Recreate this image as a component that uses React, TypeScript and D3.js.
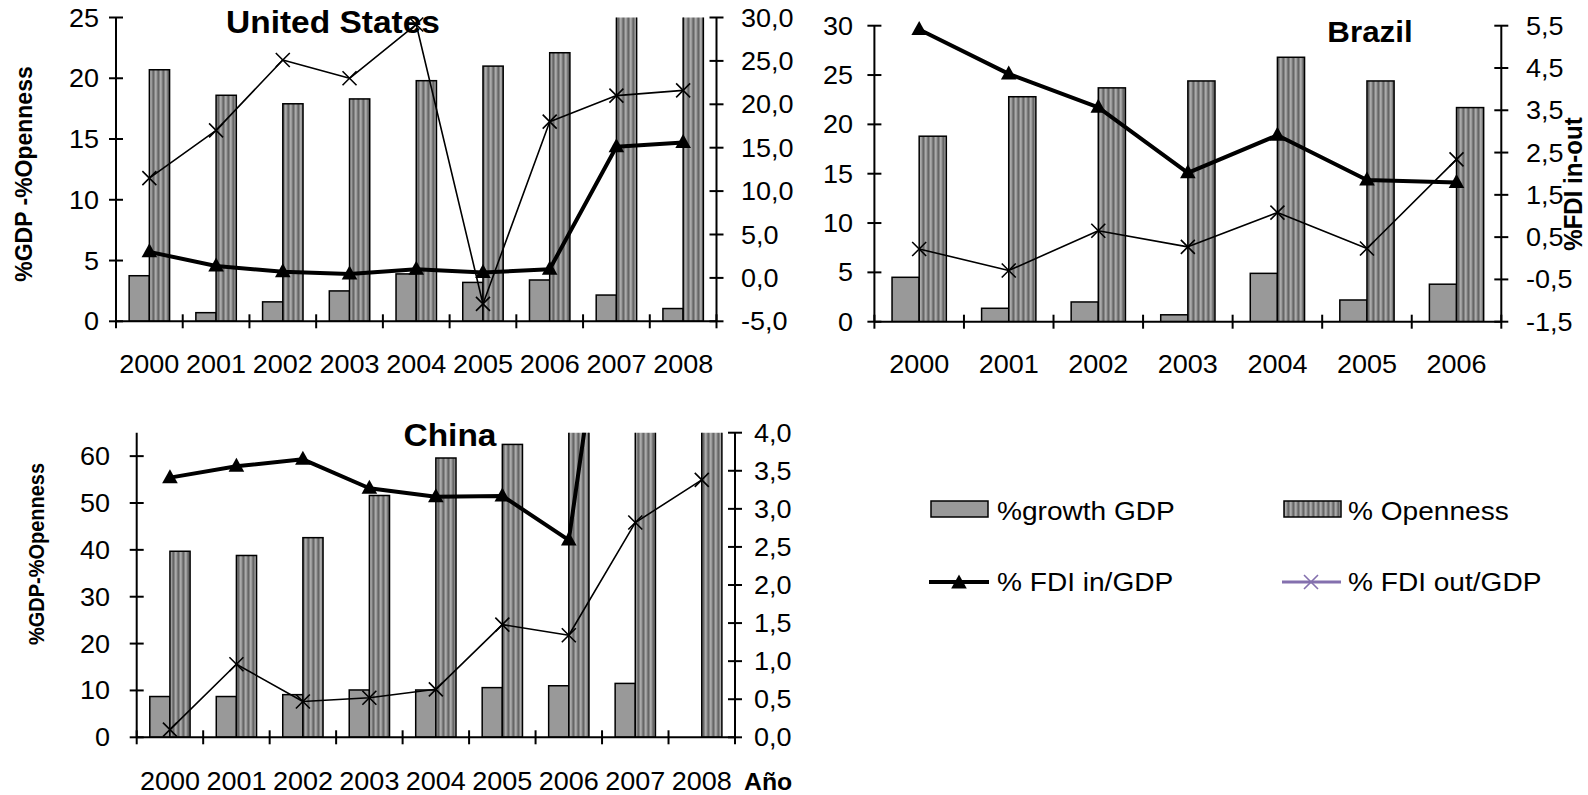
import React from 'react';
import * as d3 from 'd3';

// ---------- data ----------
const years9 = ['2000', '2001', '2002', '2003', '2004', '2005', '2006', '2007', '2008'];
const years7 = ['2000', '2001', '2002', '2003', '2004', '2005', '2006'];

const usGrowth = [3.75, 0.71, 1.6, 2.5, 3.9, 3.2, 3.4, 2.16, 1.05];
const usOpenness = [20.7, 18.6, 17.9, 18.3, 19.8, 21.0, 22.1, 28.0, 30.0];
const usFdiIn = [3.0, 1.37, 0.71, 0.45, 1.0, 0.62, 1.0, 15.1, 15.6];
const usFdiOut = [11.5, 17.0, 25.1, 23.0, 29.2, -3.0, 18.0, 21.0, 21.6];

const brGrowth = [4.5, 1.36, 2.0, 0.7, 4.9, 2.2, 3.8];
const brOpenness = [18.8, 22.8, 23.7, 24.4, 26.8, 24.4, 21.7];
const brFdiIn = [5.41, 4.36, 3.57, 2.02, 2.91, 1.85, 1.79];
const brFdiOut = [0.22, -0.29, 0.65, 0.27, 1.08, 0.23, 2.34];

const cnGrowth: (number | null)[] = [8.7, 8.7, 9.1, 10.1, 10.1, 10.6, 11.0, 11.5, null];
const cnOpenness = [39.7, 38.8, 42.6, 51.6, 59.6, 62.5, 66.5, 67.0, 66.0];
const cnFdiIn = [3.41, 3.56, 3.65, 3.27, 3.16, 3.17, 2.59, 8.7, 8.0];
const cnFdiOut = [0.1, 0.96, 0.47, 0.52, 0.63, 1.48, 1.34, 2.82, 3.38];

const usLeftTicks = [0, 5, 10, 15, 20, 25];
const usRightTicks = [-5, 0, 5, 10, 15, 20, 25, 30];
const brLeftTicks = [0, 5, 10, 15, 20, 25, 30];
const brRightTicks = [-1.5, -0.5, 0.5, 1.5, 2.5, 3.5, 4.5, 5.5];
const cnLeftTicks = [0, 10, 20, 30, 40, 50, 60];
const cnRightTicks = [0, 0.5, 1, 1.5, 2, 2.5, 3, 3.5, 4];

const legendLabels = ['%growth GDP', '% Openness', '% FDI in/GDP', '% FDI out/GDP'];

// ---------- style ----------
const FONT = "'Liberation Sans', Arial, Helvetica, sans-serif";
const SX = 1.08;
const GROWTH_FILL = '#999999';
const LEGEND_PURPLE = '#8470ae';

const fmtComma = (v: number) => v.toFixed(1).replace('.', ',');

function T(props: {
  x: number; y: number; anchor?: string; size: number; bold?: boolean;
  rotate?: number; fill?: string; dy?: string; children: React.ReactNode;
}) {
  const { x, y, anchor = 'start', size, bold, rotate, fill = '#000', dy, children } = props;
  return (
    <text
      transform={`translate(${x},${y}) scale(${SX},1)${rotate ? ` rotate(${rotate})` : ''}`}
      textAnchor={anchor as any}
      fontSize={size}
      fontWeight={bold ? 'bold' : 'normal'}
      fontFamily={FONT}
      fill={fill}
      dy={dy}
    >
      {children}
    </text>
  );
}

const triPath = 'M0,-8.5 L7.8,5.5 L-7.8,5.5 Z';
const xPath = 'M-7,-7 L7,7 M-7,7 L7,-7';

interface PanelProps {
  id: string;
  cats: string[];
  growth: (number | null)[];
  openness: number[];
  fdiIn: number[];
  fdiOut: number[];
  x0: number; x1: number; yTop: number; yBot: number;
  leftDomain: [number, number]; leftTicks: number[];
  rightDomain: [number, number]; rightTicks: number[];
  leftLabelEnd: number; rightLabelStart: number; xLabelBase: number;
}

function Panel(p: PanelProps) {
  const x = d3.scaleBand<string>().domain(p.cats).range([p.x0, p.x1]).padding(0);
  const yL = d3.scaleLinear().domain(p.leftDomain).range([p.yBot, p.yTop]);
  const yR = d3.scaleLinear().domain(p.rightDomain).range([p.yBot, p.yTop]);
  const step = x.step();
  const bw = step / 3.3;
  const cx = (i: number) => (x(p.cats[i]) as number) + step / 2;
  const line = d3.line<number>().x((_, i) => cx(i)).y(d => yR(d));
  const clip = `clip-${p.id}`;
  const [rMin, rMax] = p.rightDomain;
  return (
    <g>
      <defs>
        <clipPath id={clip}>
          <rect x={p.x0} y={p.yTop} width={p.x1 - p.x0} height={p.yBot - p.yTop} />
        </clipPath>
      </defs>
      {/* bars */}
      <g clipPath={`url(#${clip})`}>
        {p.cats.map((c, i) => {
          const g = p.growth[i];
          const o = p.openness[i];
          const gx = cx(i) - bw;
          return (
            <g key={c}>
              {g != null && (
                <rect x={gx} y={yL(g)} width={bw} height={p.yBot - yL(g)}
                  fill={GROWTH_FILL} stroke="#000" strokeWidth={1.5} />
              )}
              <rect x={cx(i)} y={yL(o)} width={bw} height={p.yBot - yL(o)}
                fill="url(#stripes)" stroke="#000" strokeWidth={1.5} />
            </g>
          );
        })}
      </g>
      {/* axes */}
      <g stroke="#000" strokeWidth={2} fill="none">
        <line x1={p.x0} x2={p.x0} y1={p.yTop} y2={p.yBot} />
        <line x1={p.x1} x2={p.x1} y1={p.yTop} y2={p.yBot} />
        <line x1={p.x0} x2={p.x1} y1={p.yBot} y2={p.yBot} />
        {p.leftTicks.map(t => (
          <line key={'l' + t} x1={p.x0 - 7} x2={p.x0 + 7} y1={yL(t)} y2={yL(t)} />
        ))}
        {p.rightTicks.map(t => (
          <line key={'r' + t} x1={p.x1 - 7} x2={p.x1 + 7} y1={yR(t)} y2={yR(t)} />
        ))}
        {d3.range(p.cats.length + 1).map(i => (
          <line key={'c' + i} x1={p.x0 + i * step} x2={p.x0 + i * step} y1={p.yBot - 7} y2={p.yBot + 7} />
        ))}
      </g>
      {/* tick labels */}
      {p.leftTicks.map(t => (
        <T key={'lt' + t} x={p.leftLabelEnd} y={yL(t)} anchor="end" size={25} dy="0.36em">{String(t)}</T>
      ))}
      {p.rightTicks.map(t => (
        <T key={'rt' + t} x={p.rightLabelStart} y={yR(t)} anchor="start" size={25} dy="0.36em">{fmtComma(t)}</T>
      ))}
      {p.cats.map((c, i) => (
        <T key={'xt' + c} x={cx(i)} y={p.xLabelBase} anchor="middle" size={25}>{c}</T>
      ))}
      {/* lines */}
      <g clipPath={`url(#${clip})`} fill="none" stroke="#000" strokeLinejoin="round">
        <path d={line(p.fdiOut) || ''} strokeWidth={1.6} />
        <path d={line(p.fdiIn) || ''} strokeWidth={4} />
      </g>
      {p.fdiOut.map((v, i) => v >= rMin && v <= rMax ? (
        <path key={'xo' + i} d={xPath} transform={`translate(${cx(i)},${yR(v)})`} stroke="#000" strokeWidth={1.6} fill="none" />
      ) : null)}
      {p.fdiIn.map((v, i) => v >= rMin && v <= rMax ? (
        <path key={'ti' + i} d={triPath} transform={`translate(${cx(i)},${yR(v)})`} fill="#000" />
      ) : null)}
    </g>
  );
}

export default function App() {
  return (
    <svg width={1588} height={795} style={{ position: 'absolute', left: 0, top: 0, background: '#fff' }}>
      <defs>
        <pattern id="stripes" patternUnits="userSpaceOnUse" width={5} height={10}>
          <rect width={5} height={10} fill="#8e8e8e" />
          <rect x={0} width={1.5} height={10} fill="#ababab" />
          <rect x={2.5} width={1.7} height={10} fill="#666666" />
        </pattern>
      </defs>
      <rect width={1588} height={795} fill="#fff" />

      {/* United States */}
      <Panel id="us" cats={years9} growth={usGrowth} openness={usOpenness} fdiIn={usFdiIn} fdiOut={usFdiOut}
        x0={116} x1={716.5} yTop={17.5} yBot={321.3}
        leftDomain={[0, 25]} leftTicks={usLeftTicks} rightDomain={[-5, 30]} rightTicks={usRightTicks}
        leftLabelEnd={99} rightLabelStart={741} xLabelBase={373} />
      <T x={333} y={33} anchor="middle" size={31} bold>United States</T>
      <T x={32} y={174} anchor="middle" size={23} bold rotate={-90}>%GDP -%Openness</T>

      {/* Brazil */}
      <Panel id="br" cats={years7} growth={brGrowth} openness={brOpenness} fdiIn={brFdiIn} fdiOut={brFdiOut}
        x0={874.4} x1={1501.3} yTop={25.7} yBot={321.7}
        leftDomain={[0, 30]} leftTicks={brLeftTicks} rightDomain={[-1.5, 5.5]} rightTicks={brRightTicks}
        leftLabelEnd={853} rightLabelStart={1526} xLabelBase={373} />
      <T x={1370} y={41.5} anchor="middle" size={29} bold>Brazil</T>
      <T x={1582} y={184} anchor="middle" size={24} bold rotate={-90}>%FDI in-out</T>

      {/* China */}
      <Panel id="cn" cats={years9} growth={cnGrowth} openness={cnOpenness} fdiIn={cnFdiIn} fdiOut={cnFdiOut}
        x0={136.7} x1={735} yTop={432.7} yBot={737.3}
        leftDomain={[0, 65]} leftTicks={cnLeftTicks} rightDomain={[0, 4]} rightTicks={cnRightTicks}
        leftLabelEnd={110} rightLabelStart={754} xLabelBase={790} />
      <T x={450} y={446} anchor="middle" size={31} bold>China</T>
      <T x={44} y={554} anchor="middle" size={20} bold rotate={-90}>%GDP-%Openness</T>
      <T x={744} y={790} anchor="start" size={23} bold>Año</T>

      {/* Legend */}
      <rect x={931} y={501} width={57} height={16} fill={GROWTH_FILL} stroke="#000" strokeWidth={1.5} />
      <T x={997} y={520} size={26}>{legendLabels[0]}</T>
      <rect x={1284} y={501} width={57} height={16} fill="url(#stripes)" stroke="#000" strokeWidth={1.5} />
      <T x={1348} y={520} size={26}>{legendLabels[1]}</T>
      <line x1={929} x2={989} y1={582} y2={582} stroke="#000" strokeWidth={4} />
      <path d={triPath} transform="translate(959,583)" fill="#000" />
      <T x={997} y={591} size={26}>{legendLabels[2]}</T>
      <line x1={1282} x2={1341} y1={582} y2={582} stroke={LEGEND_PURPLE} strokeWidth={3} />
      <path d={xPath} transform="translate(1311,582)" stroke={LEGEND_PURPLE} strokeWidth={1.6} fill="none" />
      <T x={1348} y={591} size={26}>{legendLabels[3]}</T>
    </svg>
  );
}
